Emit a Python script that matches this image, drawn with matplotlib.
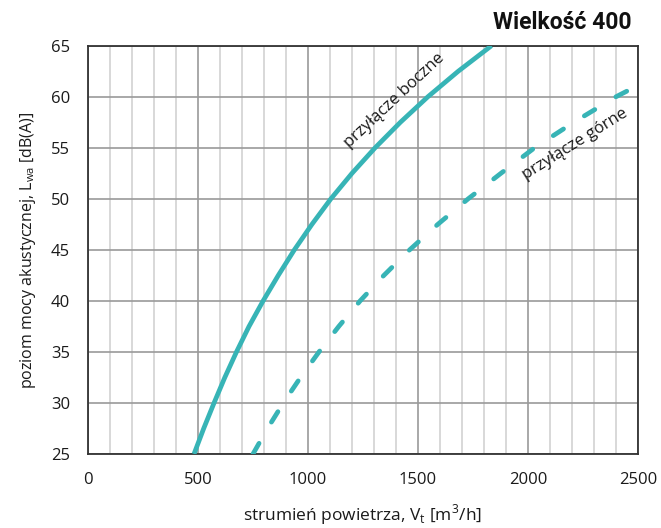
import matplotlib
matplotlib.use("Agg")
import matplotlib.pyplot as plt
from matplotlib.ticker import MultipleLocator

plt.rcParams['font.family'] = ['Open Sans', 'DejaVu Sans']

# sound power level [dB(A)] vs air flow [m3/h], size 400
lwa_side = [25, 27.5, 30, 32.5, 35, 37.5, 40, 42.5, 45, 47.5, 50, 52.5, 55, 57.5, 60, 62.5, 65]
flow_side = [482, 526, 573, 622, 675, 732, 796, 865, 938, 1018, 1104, 1200, 1305, 1420, 1545, 1683, 1834]

lwa_top = [25, 27.5, 30, 32.5, 35, 37.5, 40, 42.5, 45, 47.5, 50, 52.5, 55, 57.5, 60, 60.8]
flow_top = [750, 816, 888, 966, 1050, 1140, 1237, 1345, 1462, 1590, 1728, 1877, 2030, 2208, 2400, 2472]

teal = "#37b4b6"

fig = plt.figure(figsize=(6.61, 5.28), dpi=100)
ax = fig.add_axes([0.1331, 0.1402, 0.8321, 0.7732])

ax.plot(flow_side, lwa_side, color=teal, lw=3.4, solid_capstyle='butt', zorder=3)
ax.plot(flow_top, lwa_top, color=teal, lw=3.4, dashes=(2.6, 5.2),
        dash_capstyle='round', zorder=3)

ax.set_xlim(0, 2500)
ax.set_ylim(25, 65)
ax.xaxis.set_major_locator(MultipleLocator(500))
ax.xaxis.set_minor_locator(MultipleLocator(100))
ax.yaxis.set_major_locator(MultipleLocator(5))

ax.grid(which='minor', axis='x', color='#d6d6d6', lw=1.3, zorder=0)
ax.grid(which='major', axis='both', color='#9a9a9a', lw=1.2, zorder=1)
ax.set_axisbelow(True)

ax.tick_params(which='both', length=0)
ax.tick_params(axis='x', pad=13, labelsize=12, colors='#1a1a1a')
ax.tick_params(axis='y', pad=13, labelsize=12, colors='#1a1a1a')
for s in ax.spines.values():
    s.set_color('#333333')
    s.set_linewidth(1.3)

ax.set_xlabel("strumień powietrza, V$_\\mathregular{t}$ [m$^\\mathregular{3}$/h]",
              fontsize=12.5, color='#1a1a1a', labelpad=10)
ax.set_ylabel("poziom mocy akustycznej, L$_\\mathregular{wa}$ [dB(A)]",
              fontsize=11.5, color='#1a1a1a', labelpad=9)

# curve labels sit on their baseline, parallel to the lines
ax.text(1405, 59.3, "przyłącze boczne", rotation=43, ha='center', va='baseline',
        fontsize=12, color='#1a1a1a', rotation_mode='anchor')
ax.text(2222, 55.0, "przyłącze górne", rotation=32, ha='center', va='baseline',
        fontsize=12, color='#1a1a1a', rotation_mode='anchor')

fig.text(0.956, 0.945, "Wielkość 400", ha='right', va='baseline',
         fontsize=16.5, fontweight='bold', family=['Roboto', 'DejaVu Sans'], color='#111111')

fig.savefig("out.png", dpi=100)
